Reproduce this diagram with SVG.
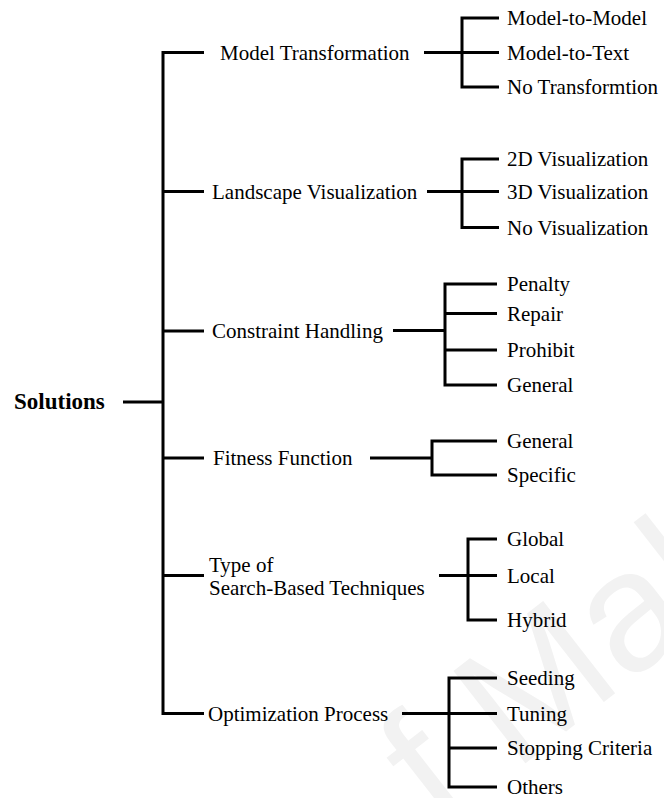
<svg xmlns="http://www.w3.org/2000/svg" width="664" height="798" viewBox="0 0 664 798">
  <style>
    .lbl { font-family: "Liberation Serif", "DejaVu Serif", "Noto Serif", serif; font-size: 21px; fill: #000; }
    .root { font-family: "Liberation Serif", "DejaVu Serif", "Noto Serif", serif; font-size: 23px; font-weight: bold; fill: #000; }
    .wire { fill: none; stroke: #000; stroke-width: 3; stroke-linejoin: miter; stroke-linecap: butt; }
    .mark { font-family: "Liberation Sans", Arial, sans-serif; font-size: 170px; fill: #f2f2f2; }
  </style>
  <rect width="664" height="798" fill="#fff"/>

  <!-- faint background stamp -->
  <text class="mark" transform="translate(440,830) rotate(-38)" x="0" y="0">f Mala</text>

  <g id="connectors">
    <!-- root to trunk -->
    <path class="wire" d="M123 402 H163"/>
    <!-- trunk with category branches -->
    <path class="wire" d="M204 52.5 H163 V713.5 H204"/>
    <path class="wire" d="M163 191.5 H204 M163 331 H204 M163 458 H204 M163 575.5 H204"/>
    <!-- Model Transformation -->
    <path class="wire" d="M424 52.5 H499"/>
    <path class="wire" d="M499 18 H462 V87 H499"/>
    <!-- Landscape Visualization -->
    <path class="wire" d="M427 191.5 H499"/>
    <path class="wire" d="M499 159 H462 V227.5 H499"/>
    <!-- Constraint Handling -->
    <path class="wire" d="M393 330.5 H445"/>
    <path class="wire" d="M497 284 H445 V385 H497"/>
    <path class="wire" d="M445 313.5 H497 M445 350 H497"/>
    <!-- Fitness Function -->
    <path class="wire" d="M370 458 H432"/>
    <path class="wire" d="M497 441 H432 V475 H497"/>
    <!-- Type of Search-Based Techniques -->
    <path class="wire" d="M439 575.5 H497"/>
    <path class="wire" d="M497 539 H468 V620 H497"/>
    <!-- Optimization Process -->
    <path class="wire" d="M402 713.5 H497"/>
    <path class="wire" d="M497 678 H449 V787 H497"/>
    <path class="wire" d="M449 748 H497"/>
  </g>

  <g id="solutions"><text class="root" x="14" y="409">Solutions</text></g>

  <g id="model-transformation"><text class="lbl" x="220" y="60">Model Transformation</text></g>
  <g id="mt-m2m"><text class="lbl" x="507" y="25">Model-to-Model</text></g>
  <g id="mt-m2t"><text class="lbl" x="507" y="60">Model-to-Text</text></g>
  <g id="mt-none"><text class="lbl" x="507" y="94">No Transformtion</text></g>

  <g id="landscape-visualization"><text class="lbl" x="212" y="198.5">Landscape Visualization</text></g>
  <g id="lv-2d"><text class="lbl" x="507" y="166">2D Visualization</text></g>
  <g id="lv-3d"><text class="lbl" x="507" y="198.5">3D Visualization</text></g>
  <g id="lv-none"><text class="lbl" x="507" y="234.5">No Visualization</text></g>

  <g id="constraint-handling"><text class="lbl" x="212" y="338">Constraint Handling</text></g>
  <g id="ch-penalty"><text class="lbl" x="507" y="291">Penalty</text></g>
  <g id="ch-repair"><text class="lbl" x="507" y="320.5">Repair</text></g>
  <g id="ch-prohibit"><text class="lbl" x="507" y="357">Prohibit</text></g>
  <g id="ch-general"><text class="lbl" x="507" y="392">General</text></g>

  <g id="fitness-function"><text class="lbl" x="213" y="465">Fitness Function</text></g>
  <g id="ff-general"><text class="lbl" x="507" y="448">General</text></g>
  <g id="ff-specific"><text class="lbl" x="507" y="482">Specific</text></g>

  <g id="search-techniques">
    <text class="lbl" x="209" y="572">Type of</text>
    <text class="lbl" x="209" y="595">Search-Based Techniques</text>
  </g>
  <g id="st-global"><text class="lbl" x="507" y="546">Global</text></g>
  <g id="st-local"><text class="lbl" x="507" y="582.5">Local</text></g>
  <g id="st-hybrid"><text class="lbl" x="507" y="627">Hybrid</text></g>

  <g id="optimization-process"><text class="lbl" x="208" y="721">Optimization Process</text></g>
  <g id="op-seeding"><text class="lbl" x="507" y="685">Seeding</text></g>
  <g id="op-tuning"><text class="lbl" x="507" y="720.5">Tuning</text></g>
  <g id="op-stopping"><text class="lbl" x="507" y="755">Stopping Criteria</text></g>
  <g id="op-others"><text class="lbl" x="507" y="794">Others</text></g>
</svg>
